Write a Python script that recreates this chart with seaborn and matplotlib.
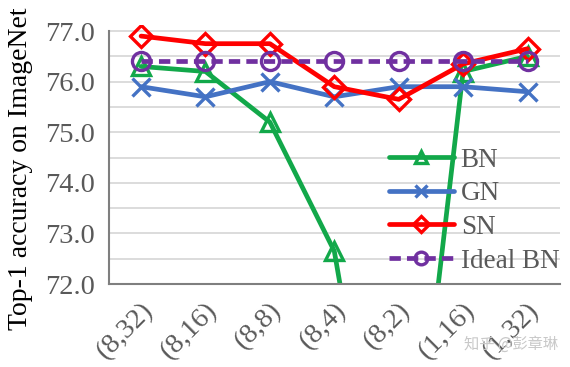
import numpy as np
import pandas as pd
import seaborn as sns
import matplotlib.pyplot as plt
from matplotlib.ticker import FixedLocator
from matplotlib.transforms import ScaledTranslation

settings = ["(8,32)", "(8,16)", "(8,8)", "(8,4)", "(8,2)", "(1,16)", "(1,32)"]
bn = [76.3, 76.2, 75.2, 72.65, 65.3, 76.2, 76.5]
gn = [75.9, 75.7, 76.0, 75.7, 75.9, 75.9, 75.8]
sn = [76.9, 76.75, 76.75, 75.9, 75.65, 76.35, 76.65]
ideal_bn = [76.4, 76.4, 76.4, 76.4, 76.4, 76.4, 76.4]
yticks = [72.0, 73.0, 74.0, 75.0, 76.0, 77.0]

names = ["BN", "GN", "SN", "Ideal BN"]
colors = ["#12A84A", "#4472C4", "#FF0000", "#7030A0"]
markers = ["^", "x", "D", "o"]
sizes = [13, 13, 11, 13]

sns.set_style("white")
plt.rcParams["font.family"] = ["Liberation Serif", "DejaVu Serif"]

fig = plt.figure(figsize=(5.7, 3.67), dpi=100)
ax = fig.add_axes([0.191, 0.226, 0.791, 0.706])

for name, vals, c, m, ms in zip(names, [bn, gn, sn, ideal_bn], colors, markers, sizes):
    df = pd.DataFrame({"setting": settings, "acc": vals})
    sns.lineplot(data=df, x="setting", y="acc", sort=False, ax=ax, color=c,
                 linewidth=3.4, marker=m, markersize=ms,
                 markerfacecolor="none", markeredgecolor=c, markeredgewidth=2.4,
                 label=name)
ax.lines[3].set_linestyle((0, (2.4, 1.3)))

ax.set_xlim(-0.5, 6.5)
ax.set_ylim(72, 77.12)
ax.yaxis.set_major_locator(FixedLocator(yticks))
ax.yaxis.set_minor_locator(FixedLocator([72.5, 73.5, 74.5, 75.5, 76.5]))
ax.set_yticklabels([f"{v:.1f}" for v in yticks])
ax.xaxis.set_minor_locator(FixedLocator([0.5, 1.5, 2.5, 3.5, 4.5, 5.5, 6.5]))
ax.grid(True, which="both", axis="y", color="#D9D9D9", linewidth=1.3)
ax.set_axisbelow(True)

for s in ["top", "right"]:
    ax.spines[s].set_visible(False)
for s in ["left", "bottom"]:
    ax.spines[s].set_color("#7F7F7F")
    ax.spines[s].set_linewidth(1.5)
ax.spines["left"].set_bounds(72, 77)

ax.tick_params(axis="y", which="both", direction="in", length=6, width=1.3,
               color="#7F7F7F", labelsize=20.5, labelcolor="#595959", pad=10)
ax.tick_params(axis="x", which="major", length=0, labelsize=20.5,
               labelcolor="#595959", pad=10)
ax.tick_params(axis="x", which="minor", direction="in", length=8, width=1.3,
               color="#7F7F7F")
for lab in ax.get_xticklabels():
    lab.set_rotation(45)
    lab.set_ha("right")
    lab.set_transform(lab.get_transform() + ScaledTranslation(0.17, 0, fig.dpi_scale_trans))

ax.set_xlabel("")
ax.set_ylabel("Top-1 accuracy on ImageNet", fontsize=20, color="black")
ax.yaxis.set_label_coords(-0.168, 0.445)

leg = ax.legend(loc="lower right", bbox_to_anchor=(1.005, 0.03), frameon=False,
                fontsize=19.5, handlelength=2.4, labelspacing=0.32,
                handletextpad=0.25, borderpad=0.1, borderaxespad=0.0,
                markerscale=0.7)
for t in leg.get_texts():
    t.set_color("#595959")

fig.text(0.98, 0.04, "知乎 @彭章琳", ha="right", va="bottom", fontsize=11,
         color="#C8C8C8", family=["Noto Sans CJK SC", "DejaVu Sans"])

fig.savefig("out.png", dpi=100)
